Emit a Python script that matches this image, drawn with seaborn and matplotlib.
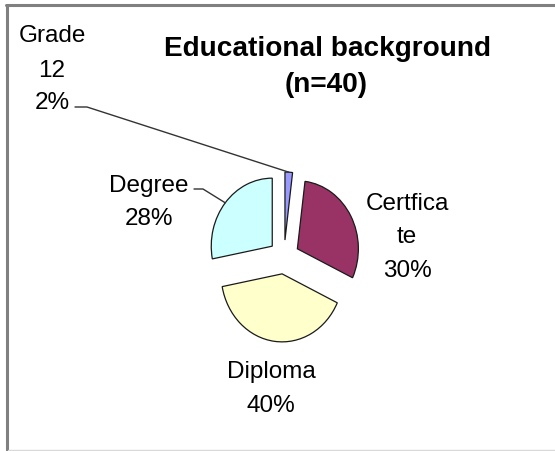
import numpy as np
import matplotlib
matplotlib.use("Agg")
import matplotlib.pyplot as plt
import seaborn as sns
from matplotlib.lines import Line2D

# ---- data ----
categories = ["Grade 12", "Certficate", "Diploma", "Degree"]
shares = [2, 30, 40, 28]
label_lines = [["Grade", "12", "2%"], ["Certfica", "te", "30%"], ["Diploma", "40%"], ["Degree", "28%"]]
title_lines = ["Educational background", "(n=40)"]
colors = ["#9999FF", "#993366", "#FFFFCC", "#CCFFFF"]

sns.set_theme(style="white")
plt.rcParams["font.family"] = ["Liberation Sans", "DejaVu Sans"]

W, H = 555, 452
fig = plt.figure(figsize=(W / 100, H / 100), dpi=100)
fig.patch.set_facecolor("white")

def fx(px):
    return px / W

def fy(py):
    return 1 - py / H

# pie centre / radii in pixels (image is slightly stretched vertically)
cx, cy, rx, ry = 284, 258, 61, 68
ax = fig.add_axes([0, 0, 1, 1])
explode = 0.25
wedges, _ = ax.pie(shares, colors=colors, startangle=90, counterclock=False,
                   explode=[explode] * len(shares), radius=1,
                   wedgeprops=dict(edgecolor="#1a1a1a", linewidth=0.9))
ax.set_aspect("auto")
ax.set_xlim(-cx / rx, (W - cx) / rx)
ax.set_ylim(-(H - cy) / ry, cy / ry)
ax.axis("off")

# frame
fig.add_artist(Line2D([fx(6.5), fx(6.5)], [fy(5.5), fy(451)], color="#808080", lw=2.2,
                      transform=fig.transFigure))
fig.add_artist(Line2D([fx(5.5), fx(560)], [fy(5.5), fy(5.5)], color="#808080", lw=2.2,
                      transform=fig.transFigure))
fig.add_artist(Line2D([fx(7.5), fx(560)], [fy(451), fy(451)], color="#d9d9d9", lw=1.0,
                      transform=fig.transFigure))

# title
title_pos = [(328, 56), (326, 92)]
for t, (px, py) in zip(title_lines, title_pos):
    fig.text(fx(px), fy(py), t, ha="center", va="baseline", fontsize=20.2,
             fontweight="bold", color="black")

# labels (centre x, baseline of each line)
label_pos = [(52, [42, 77, 109]), (407, [210, 243, 277]), (271, [378, 412]), (149, [192, 225])]
for lines, (px, bases) in zip(label_lines, label_pos):
    for ln, py in zip(lines, bases):
        fig.text(fx(px), fy(py), ln, ha="center", va="baseline",
                 fontsize=17.5, color="black")

# leader lines to wedge arcs (Grade 12 and Degree)
def arc_mid(w):
    th = np.deg2rad((w.theta1 + w.theta2) / 2)
    c = w.center
    return c[0] + w.r * np.cos(th), c[1] + w.r * np.sin(th)

to_fig = lambda xy: fig.transFigure.inverted().transform(ax.transData.transform(xy))
g_end = to_fig(arc_mid(wedges[0]))
fig.add_artist(Line2D([fx(75), fx(87), g_end[0]], [fy(108), fy(108), g_end[1]],
                      color="#333333", lw=1.0, transform=fig.transFigure))
d_end = to_fig(arc_mid(wedges[3]))
fig.add_artist(Line2D([fx(194), fx(203), d_end[0]], [fy(190), fy(190), d_end[1]],
                      color="#333333", lw=1.0, transform=fig.transFigure))

fig.savefig("out.png", dpi=100, facecolor="white")
